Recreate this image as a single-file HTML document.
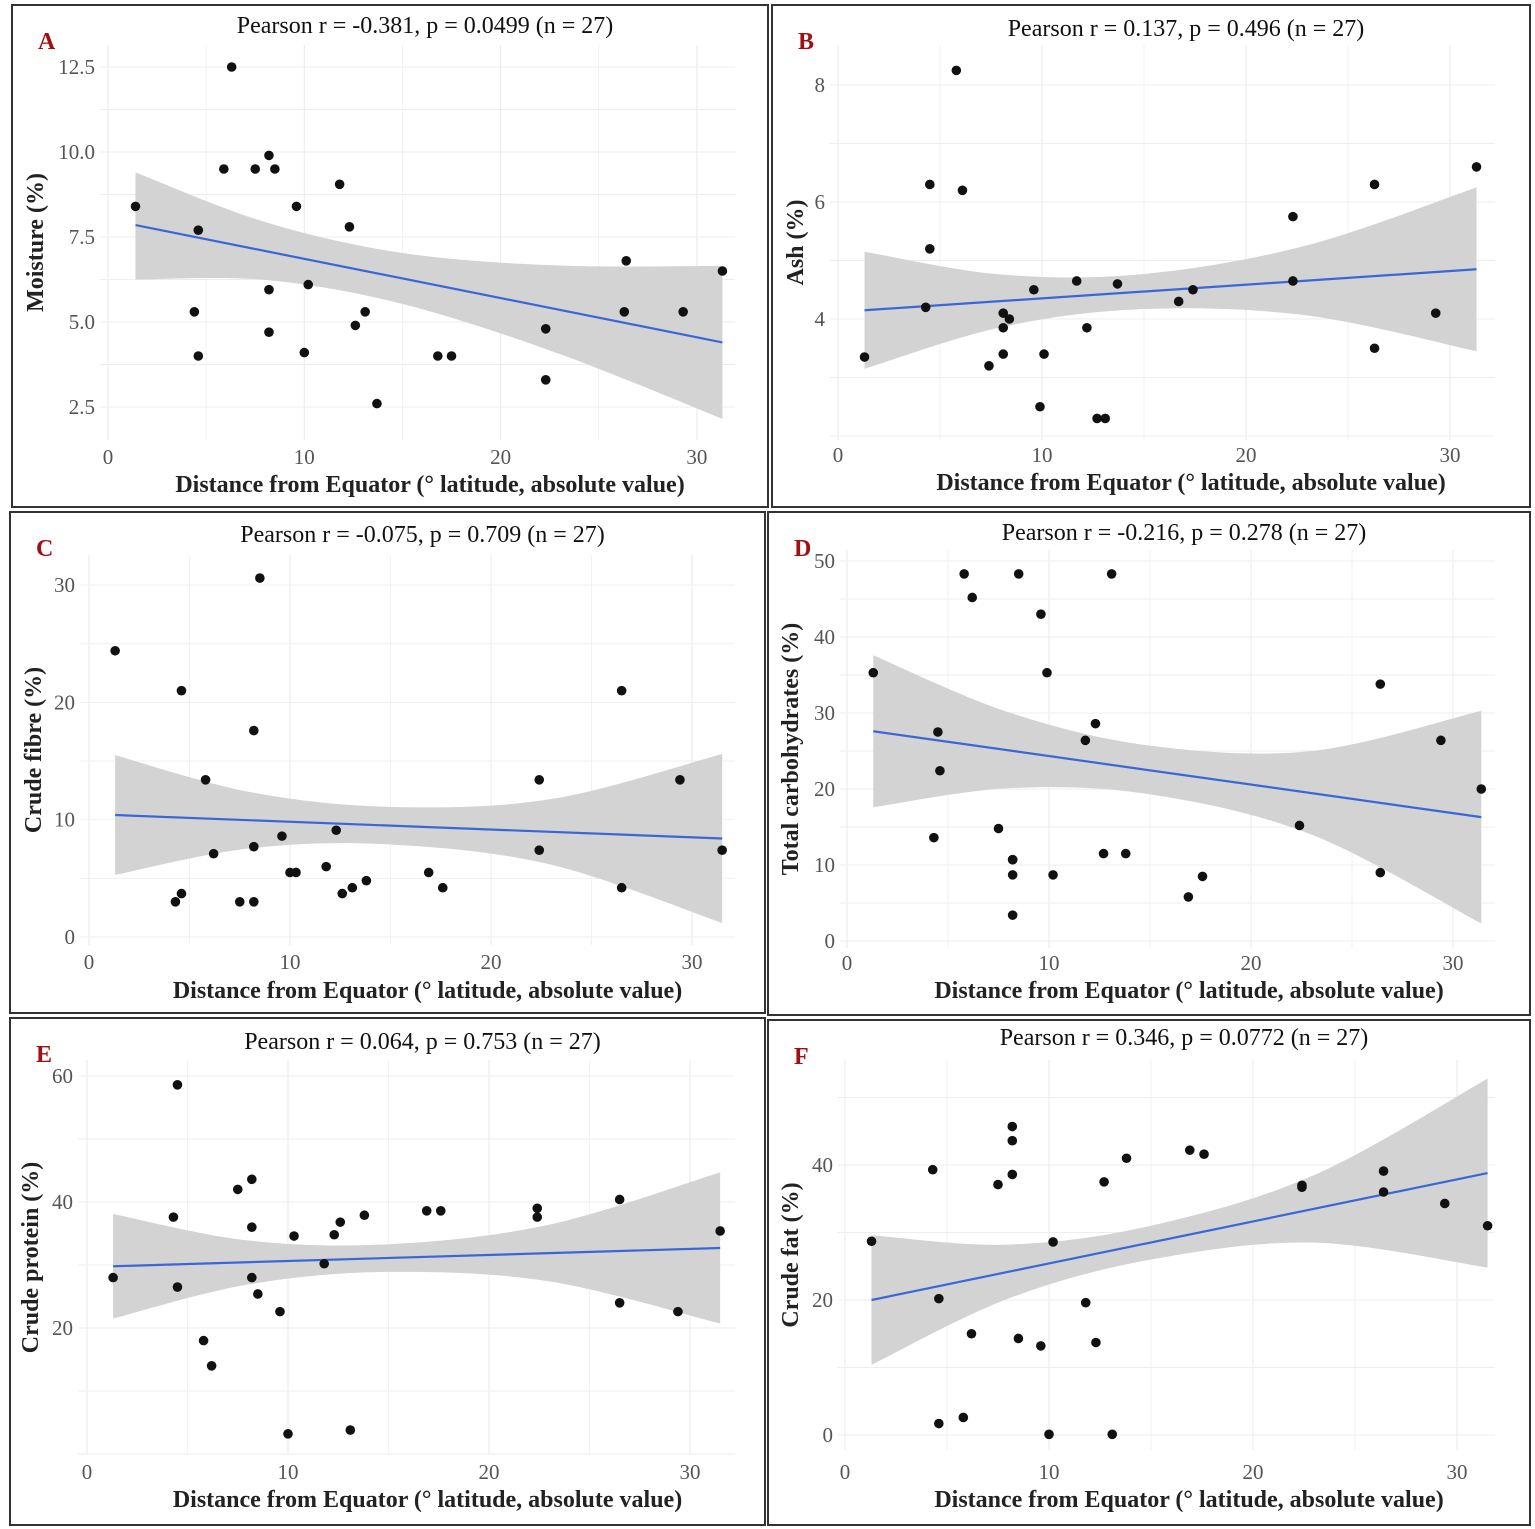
<!DOCTYPE html>
<html><head><meta charset="utf-8">
<style>
html,body{margin:0;padding:0;background:#fff;}
svg{display:block;font-family:"Liberation Serif",serif;}
</style></head>
<body>
<svg id="fig" width="1535" height="1529" viewBox="0 0 1535 1529" xmlns="http://www.w3.org/2000/svg"></svg>
<script>
// ---------- Data ----------
const aX=[1.4,4.4,4.6,4.6,5.9,6.3,7.5,8.2,8.2,8.2,8.5,9.6,10.0,10.2,11.8,12.3,12.6,13.1,13.7,16.8,17.5,22.3,22.3,26.4,26.3,29.3,31.3];
const aY=[8.4,5.3,7.7,4.0,9.5,12.5,9.5,5.95,4.7,9.9,9.5,8.4,4.1,6.1,9.05,7.8,4.9,5.3,2.6,4.0,4.0,4.8,3.3,6.8,5.3,5.3,6.5];
const aFitX=[1.4,31.3], aFitY=[7.85,4.4];
const aBandX=[1.4,8,15,23,31.3], aBandHi=[9.4,7.94,7.03,6.66,6.65], aBandLo=[6.25,6.24,5.53,4.06,2.15];

const bX=[1.3,4.3,4.5,4.5,5.8,6.1,7.4,8.1,8.1,8.1,8.4,9.9,9.6,10.1,11.7,12.2,12.7,13.1,13.7,16.7,17.4,22.3,22.3,26.3,26.3,29.3,31.3];
const bY=[3.35,4.2,6.3,5.2,8.25,6.2,3.2,4.1,3.4,3.85,4.0,2.5,4.5,3.4,4.65,3.85,2.3,2.3,4.6,4.3,4.5,5.75,4.65,6.3,3.5,4.1,6.6];
const bFitX=[1.3,31.3], bFitY=[4.15,4.85];
const bBandX=[1.3,8,15,23,31.3], bBandHi=[5.15,4.76,4.77,5.26,6.25], bBandLo=[3.15,3.86,4.17,4.06,3.45];

const cX=[1.3,4.3,4.6,4.6,5.8,6.2,7.5,8.2,8.2,8.2,8.5,9.6,10.0,10.3,11.8,12.3,12.6,13.1,13.8,16.9,17.6,22.4,22.4,26.5,26.5,29.4,31.5];
const cY=[24.4,3.0,21.0,3.7,13.4,7.1,3.0,17.6,7.7,3.0,30.6,8.6,5.5,5.5,6.0,9.1,3.7,4.2,4.8,5.5,4.2,13.4,7.4,21.0,4.2,13.4,7.4];
const cFitX=[1.3,31.5], cFitY=[10.4,8.4];
const cBandX=[1.3,8,15,23,31.5], cBandHi=[15.5,12.36,11.09,11.76,15.6], cBandLo=[5.3,7.56,7.89,6.16,1.2];

const dX=[1.3,4.3,4.5,4.6,5.8,6.2,7.5,8.2,8.2,8.2,8.5,9.6,9.9,10.2,11.8,12.3,12.7,13.1,13.8,16.9,17.6,22.4,26.4,26.4,29.4,31.4,8.2];
const dY=[35.3,13.6,27.5,22.4,48.3,45.2,14.8,10.7,8.7,3.4,48.3,43.0,35.3,8.7,26.4,28.6,11.5,48.3,11.5,5.8,8.5,15.2,33.8,9.0,26.4,20.0,10.7];
const dFitX=[1.3,31.4], dFitY=[27.6,16.3];
const dBandX=[1.3,8,15,23,31.4], dBandHi=[37.6,30.1,25.7,25,30.3], dBandLo=[17.6,20.1,19.3,14,2.3];

const eX=[1.3,4.3,4.5,4.5,5.8,6.2,7.5,8.2,8.2,8.2,8.5,9.6,10.0,10.3,11.8,12.3,12.6,13.1,13.8,16.9,17.6,22.4,22.4,26.5,26.5,29.4,31.5];
const eY=[28.0,37.6,58.6,26.5,18.0,14.0,42.0,43.6,36.0,28.0,25.4,22.6,3.2,34.6,30.2,34.8,36.8,3.8,37.9,38.6,38.6,39.0,37.6,40.4,24.0,22.6,35.4];
const eFitX=[1.3,31.5], eFitY=[29.8,32.7];
const eBandX=[1.3,8,15,23,31.5], eBandHi=[38.1,33.9,33.3,36.4,44.7], eBandLo=[21.5,26.9,28.9,27.4,20.7];

const fX=[1.3,4.3,4.6,4.6,5.8,6.2,7.5,8.2,8.2,8.2,8.5,9.6,10.0,10.2,11.8,12.3,12.7,13.1,13.8,16.9,17.6,22.4,22.4,26.4,26.4,29.4,31.5];
const fY=[28.7,39.3,20.2,1.7,2.6,15.0,37.1,45.7,43.6,38.6,14.3,13.2,0.1,28.6,19.6,13.7,37.5,0.1,41.0,42.2,41.6,37.0,36.7,39.1,36.0,34.3,31.0];
const fFitX=[1.3,31.5], fFitY=[20.0,38.8];
const fBandX=[1.3,8,15,23,31.5], fBandHi=[29.6,28.2,31,38.5,52.8], fBandLo=[10.4,20.2,26,28.5,24.8];

const xTicks=[0,10,20,30];
const aYTicks=[2.5,5,7.5,10,12.5], aYLabels=["2.5","5.0","7.5","10.0","12.5"];
const bYTicks=[4,6,8], bYLabels=["4","6","8"];
const cYTicks=[0,10,20,30], cYLabels=["0","10","20","30"];
const dYTicks=[0,10,20,30,40,50], dYLabels=["0","10","20","30","40","50"];
const eYTicks=[20,40,60], eYLabels=["20","40","60"];
const fYTicks=[0,20,40], fYLabels=["0","20","40"];

// ---------- Layout ----------
const NS="http://www.w3.org/2000/svg";
const svg=document.getElementById('fig');
function mk(tag,attrs,parent){const e=document.createElementNS(NS,tag);for(const k in attrs)e.setAttribute(k,attrs[k]);(parent||svg).appendChild(e);return e;}

const panels=[
 {id:'a',letter:'A',box:[12,5,768,507],plot:[100,45,735,440],x0:108,kx:19.63,yv:2.5,ypx:407,ky:34,
  xs:aX,ys:aY,fx:aFitX,fy:aFitY,bx:aBandX,bh:aBandHi,bl:aBandLo,yt:aYTicks,yl:aYLabels,minor:1.25,
  title:'Pearson r = -0.381, p = 0.0499 (n = 27)',ylab:'Moisture (%)',tickY:457,xtY:484,ytX:35,titleY:25},
 {id:'b',letter:'B',box:[772,5,1530,507],plot:[830,45,1495,440],x0:838,kx:20.4,yv:4,ypx:319,ky:58.5,
  xs:bX,ys:bY,fx:bFitX,fy:bFitY,bx:bBandX,bh:bBandHi,bl:bBandLo,yt:bYTicks,yl:bYLabels,minor:1,
  title:'Pearson r = 0.137, p = 0.496 (n = 27)',ylab:'Ash (%)',tickY:455,xtY:482,ytX:795,titleY:28},
 {id:'c',letter:'C',box:[10,512,765,1013],plot:[80,555,735,945],x0:89,kx:20.1,yv:0,ypx:937,ky:11.73,
  xs:cX,ys:cY,fx:cFitX,fy:cFitY,bx:cBandX,bh:cBandHi,bl:cBandLo,yt:cYTicks,yl:cYLabels,minor:5,
  title:'Pearson r = -0.075, p = 0.709 (n = 27)',ylab:'Crude fibre (%)',tickY:962,xtY:990,ytX:33,titleY:534},
 {id:'d',letter:'D',box:[768,512,1530,1015],plot:[840,550,1495,948],x0:847,kx:20.2,yv:0,ypx:941,ky:7.6,
  xs:dX,ys:dY,fx:dFitX,fy:dFitY,bx:dBandX,bh:dBandHi,bl:dBandLo,yt:dYTicks,yl:dYLabels,minor:5,
  title:'Pearson r = -0.216, p = 0.278 (n = 27)',ylab:'Total carbohydrates (%)',tickY:963,xtY:990,ytX:790,titleY:532},
 {id:'e',letter:'E',box:[10,1018,765,1525],plot:[78,1060,735,1455],x0:87,kx:20.1,yv:20,ypx:1328,ky:6.3,
  xs:eX,ys:eY,fx:eFitX,fy:eFitY,bx:eBandX,bh:eBandHi,bl:eBandLo,yt:eYTicks,yl:eYLabels,minor:10,
  title:'Pearson r = 0.064, p = 0.753 (n = 27)',ylab:'Crude protein (%)',tickY:1472,xtY:1499,ytX:30,titleY:1041},
 {id:'f',letter:'F',box:[768,1020,1530,1525],plot:[838,1060,1495,1450],x0:845,kx:20.4,yv:0,ypx:1435,ky:6.75,
  xs:fX,ys:fY,fx:fFitX,fy:fFitY,bx:fBandX,bh:fBandHi,bl:fBandLo,yt:fYTicks,yl:fYLabels,minor:10,
  title:'Pearson r = 0.346, p = 0.0772 (n = 27)',ylab:'Crude fat (%)',tickY:1472,xtY:1499,ytX:790,titleY:1037}
];

function smooth(pts){
  let d='M'+pts[0][0]+','+pts[0][1];
  for(let i=0;i<pts.length-1;i++){
    const p0=pts[i-1]||pts[i],p1=pts[i],p2=pts[i+1],p3=pts[i+2]||p2;
    const c1=[p1[0]+(p2[0]-p0[0])/6,p1[1]+(p2[1]-p0[1])/6];
    const c2=[p2[0]-(p3[0]-p1[0])/6,p2[1]-(p3[1]-p1[1])/6];
    d+=' C'+c1[0]+','+c1[1]+' '+c2[0]+','+c2[1]+' '+p2[0]+','+p2[1];
  }
  return d;
}

panels.forEach(P=>{
  const g=mk('g',{});
  
  
  const X=v=>P.x0+v*P.kx;
  const Y=v=>P.ypx-(v-P.yv)*P.ky;
  const [L,T,R,B]=P.plot;
  const grid=mk('g',{stroke:'#ededed','stroke-width':1},g);
  
  
  for(let v=-5;v<=35;v+=5){const px=X(v);if(px>=L&&px<=R)mk('line',{x1:px,x2:px,y1:T,y2:B,'stroke-width':v%10===0?1.2:0.7},grid);}
  const ymin=P.yv-(B-P.ypx)/P.ky, ymax=P.yv+(P.ypx-T)/P.ky;
  for(let v=Math.ceil(ymin/P.minor)*P.minor;v<=ymax;v+=P.minor){mk('line',{x1:L,x2:R,y1:Y(v),y2:Y(v),'stroke-width':0.9},grid);}
  const up=P.bx.map((x,i)=>[X(x),Y(P.bh[i])]);
  const lo=P.bx.map((x,i)=>[X(x),Y(P.bl[i])]).reverse();
  const sl=smooth(lo);
  const d=smooth(up)+' L'+lo[0][0]+','+lo[0][1]+sl.slice(sl.indexOf(' C'))+' Z';
  const band=mk('path',{d:d,fill:'#d3d3d3',stroke:'none'},g);
  
  
  const ln=mk('line',{x1:X(P.fx[0]),y1:Y(P.fy[0]),x2:X(P.fx[1]),y2:Y(P.fy[1]),stroke:'#3a66d8','stroke-width':2.2},g);
  
  
  P.xs.forEach((x,i)=>{
    const c=mk('circle',{cx:X(x),cy:Y(P.ys[i]),r:4.8,fill:'#111'},g);
    
    
  });
  xTicks.forEach(v=>{
    const t=mk('text',{x:X(v),y:P.tickY+7,'text-anchor':'middle','font-size':21,fill:'#555'},g);
    t.textContent=v;
    
    
  });
  P.yt.forEach((v,i)=>{
    const t=mk('text',{x:L-5,y:Y(v)+7,'text-anchor':'end','font-size':21,fill:'#555'},g);
    t.textContent=P.yl[i];
    
    
  });
  const cx=(P.box[0]+P.box[2])/2+40;
  const xt=mk('text',{x:cx,y:P.xtY+8,'text-anchor':'middle','font-size':24,'font-weight':'bold',fill:'#222'},g);
  xt.textContent='Distance from Equator (° latitude, absolute value)';
  
  
  const cy=(T+B)/2;
  const yt=mk('text',{x:P.ytX+8,y:cy,'text-anchor':'middle','font-size':24,'font-weight':'bold',fill:'#222',transform:'rotate(-90 '+(P.ytX+8)+' '+cy+')'},g);
  yt.textContent=P.ylab;
  
  
  const tt=mk('text',{x:cx-5,y:P.titleY+8,'text-anchor':'middle','font-size':24,fill:'#111'},g);
  tt.textContent=P.title;
  
  
  const lt=mk('text',{x:P.box[0]+26,y:P.box[1]+44,'font-size':24,'font-weight':'bold',fill:'#a01010'},g);
  lt.textContent=P.letter;
  
  
  const bx=mk('rect',{x:P.box[0],y:P.box[1],width:P.box[2]-P.box[0],height:P.box[3]-P.box[1],fill:'none',stroke:'#333','stroke-width':2},g);
  
  
});
</script>
</body></html>
